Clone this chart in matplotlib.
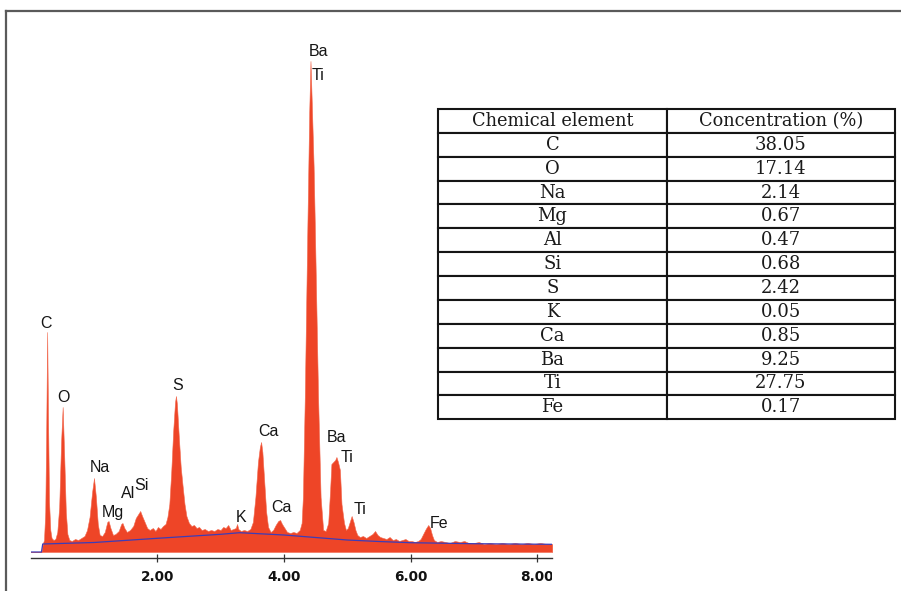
import matplotlib
matplotlib.use("Agg")
import matplotlib.pyplot as plt
from matplotlib.lines import Line2D
from matplotlib.transforms import Bbox, TransformedBbox

# ---------------- data ----------------
energy_kev = [0.00, 0.17, 0.19, 0.21, 0.23, 0.245, 0.26, 0.275, 0.29, 0.31, 0.33, 0.36, 0.39,
              0.42, 0.45, 0.48, 0.505, 0.53, 0.555, 0.58, 0.61, 0.65, 0.70, 0.75, 0.80, 0.85,
              0.89, 0.93, 0.97, 1.00, 1.03, 1.06, 1.09, 1.13, 1.17, 1.21, 1.23, 1.26, 1.30,
              1.34, 1.39, 1.43, 1.45, 1.48, 1.52, 1.57, 1.62, 1.66, 1.70, 1.73, 1.76, 1.80,
              1.84, 1.88, 1.93, 1.97, 2.01, 2.05, 2.09, 2.13, 2.16, 2.19, 2.22, 2.25, 2.28,
              2.295, 2.31, 2.34, 2.37, 2.40, 2.43, 2.46, 2.50, 2.54, 2.58, 2.62, 2.66, 2.70,
              2.75, 2.80, 2.85, 2.90, 2.95, 3.00, 3.04, 3.08, 3.12, 3.16, 3.20, 3.24, 3.26,
              3.28, 3.32, 3.37, 3.42, 3.47, 3.51, 3.55, 3.59, 3.62, 3.64, 3.66, 3.69, 3.72,
              3.75, 3.79, 3.83, 3.87, 3.91, 3.94, 3.97, 4.01, 4.05, 4.10, 4.15, 4.20, 4.25,
              4.28, 4.30, 4.33, 4.37, 4.40, 4.42, 4.44, 4.47, 4.49, 4.54, 4.58, 4.62, 4.66,
              4.70, 4.73, 4.75, 4.78, 4.81, 4.83, 4.855, 4.885, 4.91, 4.95, 4.98, 5.01, 5.04,
              5.07, 5.10, 5.13, 5.16, 5.20, 5.25, 5.30, 5.35, 5.40, 5.44, 5.48, 5.52, 5.57,
              5.62, 5.67, 5.72, 5.77, 5.82, 5.87, 5.92, 5.97, 6.02, 6.07, 6.12, 6.16, 6.20,
              6.24, 6.28, 6.31, 6.34, 6.37, 6.42, 6.48, 6.55, 6.62, 6.70, 6.78, 6.85, 6.92,
              7.00, 7.08, 7.16, 7.25, 7.35, 7.45, 7.55, 7.65, 7.75, 7.85, 7.95, 8.05, 8.15,
              8.24]
counts = [0, 0, 8, 12, 40, 120, 220, 130, 50, 22, 14, 12, 13,
          20, 45, 110, 145, 95, 40, 18, 12, 11, 13, 12, 14, 16,
          22, 35, 60, 74, 55, 28, 17, 16, 20, 30, 31, 24, 17,
          18, 21, 28, 29, 24, 20, 22, 26, 34, 38, 41, 36, 30,
          24, 22, 24, 21, 25, 23, 26, 28, 35, 48, 80, 120, 150,
          156, 148, 115, 85, 66, 48, 36, 29, 26, 27, 24, 25, 22,
          23, 21, 22, 21, 23, 22, 25, 24, 27, 22, 23, 24, 28,
          23, 21, 22, 21, 23, 30, 55, 90, 105, 110, 100, 70, 40,
          25, 20, 22, 27, 31, 32, 28, 24, 20, 19, 20, 19, 22,
          29, 55, 155, 322, 440, 491, 450, 385, 322, 155, 55, 22, 21,
          29, 62, 88, 90, 92, 95, 90, 82, 48, 29, 22, 24, 30,
          36, 30, 22, 17, 15, 16, 14, 16, 18, 21, 17, 15, 14,
          13, 15, 12, 13, 11, 12, 13, 11, 11, 10, 11, 13, 18,
          23, 27, 24, 17, 12, 10, 11, 10, 9, 11, 10, 11, 9,
          9, 10, 8, 9, 8, 9, 8, 9, 8, 9, 8, 9, 8,
          8]

bg_energy = [0.00, 0.17, 0.19, 1.0, 2.0, 3.0, 3.3, 4.0, 4.5, 5.0, 5.5, 6.0, 7.0, 8.24]
bg_counts = [0, 0, 8, 9.5, 13.7, 17.7, 19.3, 17, 14.5, 12, 10.5, 9.3, 8.3, 7.7]

peak_labels = ["C", "O", "Na", "Mg", "Al", "Si", "S", "K", "Ca", "Ca", "Ba", "Ti", "Ba", "Ti", "Ti", "Fe"]
label_energy = [0.237, 0.515, 1.095, 1.305, 1.542, 1.754, 2.316, 3.318, 3.754, 3.965,
                4.543, 4.543, 4.834, 4.992, 5.202, 6.455]
label_counts = [229, 155, 85, 40, 59, 67, 166, 35, 120, 45, 501, 477, 114, 95, 42, 29]

x_ticks = [2, 4, 6, 8]
x_tick_labels = ["2.00", "4.00", "6.00", "8.00"]

table_header = ["Chemical element", "Concentration (%)"]
elements = ["C", "O", "Na", "Mg", "Al", "Si", "S", "K", "Ca", "Ba", "Ti", "Fe"]
concentrations = ["38.05", "17.14", "2.14", "0.67", "0.47", "0.68", "2.42", "0.05", "0.85",
                  "9.25", "27.75", "0.17"]

# ---------------- figure ----------------
W, H = 901, 591
fig = plt.figure(figsize=(W / 100, H / 100), dpi=100)
fig.patch.set_facecolor("white")

# outer frame (top and left edges)
fig.add_artist(Line2D([6 / W, 6 / W], [0, 1 - 11 / H], color="#5a5a5a", lw=1.6,
                      transform=fig.transFigure))
fig.add_artist(Line2D([6 / W, 1], [1 - 11 / H, 1 - 11 / H], color="#5a5a5a", lw=1.6,
                      transform=fig.transFigure))

# spectrum axes
ax_l, ax_r, ax_b, ax_t = 30.7, 552.0, 558.0, 40.0
ax = fig.add_axes([ax_l / W, 1 - ax_b / H, (ax_r - ax_l) / W, (ax_b - ax_t) / H])
ax.set_xlim(0, (ax_r - ax_l) / 63.3)
ax.set_ylim(-6, 512)
ax.patch.set_alpha(0)

ax.fill_between(energy_kev, 0, counts, color="#EE4527", lw=0.4, edgecolor="#F26A50")
ax.plot(bg_energy, bg_counts, color="#3C3CB8", lw=0.9)

for lab, e, c in zip(peak_labels, label_energy, label_counts):
    ax.text(e, c, lab, ha="center", va="center", fontsize=11.5, color="#151515",
            family="Liberation Sans")

for s in ["top", "left", "right"]:
    ax.spines[s].set_visible(False)
ax.spines["bottom"].set_color("#333333")
ax.spines["bottom"].set_linewidth(1.0)
ax.set_yticks([])
ax.set_xticks(x_ticks)
ax.set_xticklabels(x_tick_labels, fontsize=9.8, fontweight="bold", family="DejaVu Sans",
                   color="#111111")
ax.tick_params(axis="x", direction="inout", length=6, width=0.9, color="#333333", pad=5.5)

clipbox = TransformedBbox(Bbox.from_extents(0, 0, ax_r / W, 1), fig.transFigure)
for lab in ax.get_xticklabels():
    lab.set_clip_on(True)
    lab.set_clip_box(clipbox)

# table
t_l, t_r, t_t, t_b = 438.3, 895.0, 109.0, 419.3
axt = fig.add_axes([t_l / W, 1 - t_b / H, (t_r - t_l) / W, (t_b - t_t) / H])
axt.axis("off")
cell_text = [[e, c] for e, c in zip(elements, concentrations)]
tbl = axt.table(cellText=cell_text, colLabels=table_header, cellLoc="center",
                colWidths=[0.5, 0.5], bbox=[0, 0, 1, 1])
tbl.auto_set_font_size(False)
for (r, c), cell in tbl.get_celld().items():
    cell.set_edgecolor("#151515")
    cell.set_linewidth(1.5)
    cell.set_facecolor("white")
    txt = cell.get_text()
    txt.set_fontfamily("DejaVu Serif")
    txt.set_fontsize(12.8 if r == 0 else 13)
    txt.set_color("#1a1a1a")

fig.savefig("out.png", dpi=100, facecolor="white")
